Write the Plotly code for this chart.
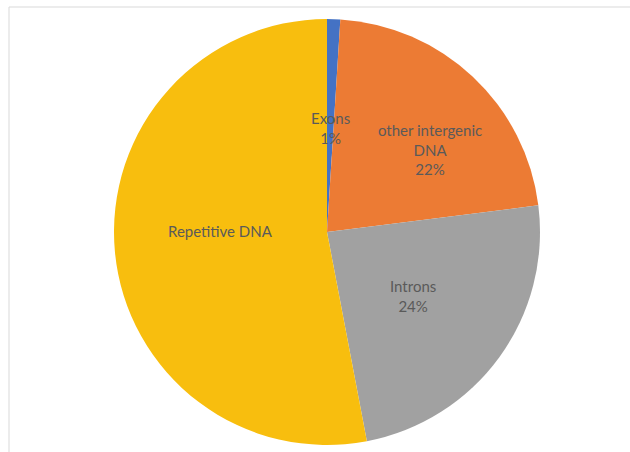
import math
import plotly.graph_objects as go

# Composition of the human genome
categories = ["Exons", "other intergenic DNA", "Introns", "Repetitive DNA"]
values = [1, 22, 24, 53]
label_text = ["Exons<br>1%", "other intergenic<br>DNA<br>22%", "Introns<br>24%", "Repetitive DNA"]
colors = ["#4472c4", "#ec7b34", "#a1a1a1", "#f8be0e"]

W, H = 630, 452
# pie placement in pixels
cx, cy, R = 327, 232, 213

# label placement: (fraction of radius, angular shift in degrees from slice middle)
label_place = [(0.49, 0.0), (0.62, 8.0), (0.505, 0.5), (0.50, 6.0)]

fig = go.Figure(go.Pie(
    labels=categories,
    values=values,
    sort=False,
    direction="clockwise",
    rotation=0,
    marker=dict(colors=colors, line=dict(width=0)),
    textinfo="none",
    hoverinfo="label+percent",
    showlegend=False,
    domain=dict(x=[(cx - R) / W, (cx + R) / W],
                y=[1 - (cy + R) / H, 1 - (cy - R) / H]),
))

# labels placed at each slice's mid-angle
total = sum(values)
cum = 0
for v, txt, (frac, shift) in zip(values, label_text, label_place):
    mid = (cum + v / 2) / total * 2 * math.pi + math.radians(shift)
    cum += v
    r = frac * R
    x = cx + r * math.sin(mid)
    y = cy - r * math.cos(mid)
    fig.add_annotation(
        x=x / W, y=1 - y / H, xref="paper", yref="paper",
        text=txt, showarrow=False,
        font=dict(family="Lato, Open Sans, sans-serif", size=15, color="#5a5a5a"),
        align="center", xanchor="center", yanchor="middle",
    )

# chart area frame
fig.add_shape(type="line", xref="paper", yref="paper",
              x0=9 / W, x1=1, y0=1 - 7 / H, y1=1 - 7 / H,
              line=dict(color="#d9d9d9", width=1))
fig.add_shape(type="line", xref="paper", yref="paper",
              x0=9 / W, x1=9 / W, y0=0, y1=1 - 7 / H,
              line=dict(color="#d9d9d9", width=1))

fig.update_layout(
    width=W, height=H,
    margin=dict(l=0, r=0, t=0, b=0),
    paper_bgcolor="white",
    plot_bgcolor="white",
)

fig.write_html("out.html")
